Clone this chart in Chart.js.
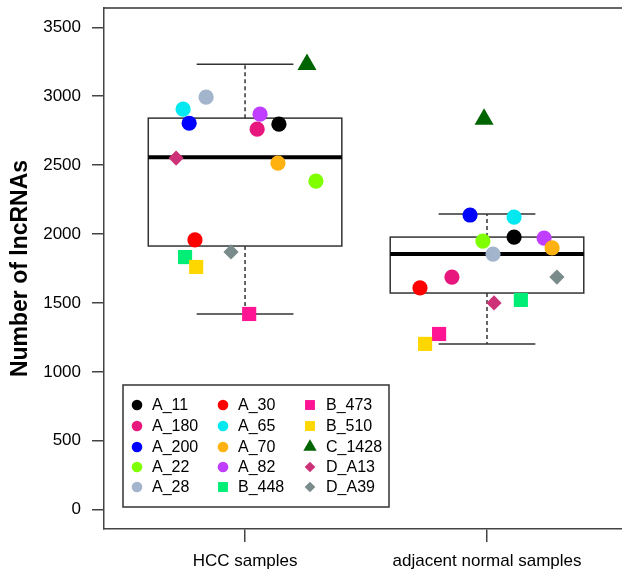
<!DOCTYPE html>
<html>
<head>
<meta charset="utf-8">
<script src="https://cdn.jsdelivr.net/npm/chart.js@4.4.1/dist/chart.umd.min.js"></script>
<style>
  html, body { margin: 0; padding: 0; background: #fff; overflow: hidden; }
  #wrap { width: 622px; height: 571px; }
</style>
</head>
<body>
<div id="wrap"><canvas id="boxchart" width="622" height="571"></canvas></div>
<script>
// groups on the x axis and y tick values
var groups = ["HCC samples", "adjacent normal samples"];
var yTicks = [0, 500, 1000, 1500, 2000, 2500, 3000, 3500];

// samples, in legend order
var samples = ["A_11", "A_180", "A_200", "A_22", "A_28", "A_30", "A_65", "A_70",
               "A_82", "B_448", "B_473", "B_510", "C_1428", "D_A13", "D_A39"];

// number of lncRNAs per sample
var hccCounts    = [2797, 2761, 2804, 2384, 2993, 1957, 2906, 2514, 2870, 1833, 1420, 1761, 3230, 2551, 1870];
var normalCounts = [1978, 1688, 2138, 1949, 1855, 1609, 2123, 1899, 1971, 1522, 1275, 1203, 2833, 1500, 1688];

// jittered x position of each point (group 1 = HCC, 2 = normal)
var hccJitter    = [1.140, 1.050, 0.769, 1.293, 0.839, 0.793, 0.744, 1.136, 1.062, 0.752, 1.017, 0.798, 1.256, 0.715, 0.942];
var normalJitter = [2.112, 1.855, 1.930, 1.983, 2.025, 1.723, 2.112, 2.269, 2.236, 2.140, 1.802, 1.744, 1.988, 2.029, 2.289];

// box stats: lower whisker, Q1, median, Q3, upper whisker
var hccBox    = [1420, 1913, 2558, 2841, 3232];
var normalBox = [1203, 1572, 1855, 1978, 2145];

// marker look per sample
var markColors = ["#000000", "#e8177d", "#0000ff", "#7fff00", "#a2b5cd", "#ff0000", "#00e8f0", "#ffb10f",
                  "#bf3eff", "#00ee76", "#ff1493", "#ffd700", "#006400", "#cd3278", "#7a8b8b"];
var markShapes = ["circle", "circle", "circle", "circle", "circle", "circle", "circle", "circle",
                  "circle", "rect", "rect", "rect", "triangle", "rectRot", "rectRot"];
var shapeRadius = { circle: 7.6, rect: 10, triangle: 11, rectRot: 7.6 };

var FONT = '"Liberation Sans", Arial, Helvetica, sans-serif';

var datasets = samples.map(function (name, i) {
  return {
    label: name,
    data: [{ x: hccJitter[i], y: hccCounts[i] }, { x: normalJitter[i], y: normalCounts[i] }],
    pointStyle: markShapes[i],
    pointRadius: shapeRadius[markShapes[i]],
    pointHoverRadius: shapeRadius[markShapes[i]],
    backgroundColor: markColors[i],
    borderColor: markColors[i],
    pointBorderWidth: 0,
    order: name === "B_510" ? -1 : 0
  };
});

// boxes, whiskers and the top frame line
var boxPlugin = {
  id: 'boxes',
  beforeDatasetsDraw: function (chart) {
    var ctx = chart.ctx, xs = chart.scales.x, ys = chart.scales.y, a = chart.chartArea;
    function line(x1, y1, x2, y2) {
      ctx.beginPath(); ctx.moveTo(x1, y1); ctx.lineTo(x2, y2); ctx.stroke();
    }
    ctx.save();
    ctx.strokeStyle = '#333'; ctx.lineWidth = 1.5;
    line(a.left, a.top, a.right, a.top);
    [hccBox, normalBox].forEach(function (b, i) {
      var c = i + 1;
      var x0 = xs.getPixelForValue(c - 0.4), x1 = xs.getPixelForValue(c + 0.4);
      var s0 = xs.getPixelForValue(c - 0.2), s1 = xs.getPixelForValue(c + 0.2);
      var cx = xs.getPixelForValue(c);
      var yLo = ys.getPixelForValue(b[0]), yQ1 = ys.getPixelForValue(b[1]);
      var yMed = ys.getPixelForValue(b[2]), yQ3 = ys.getPixelForValue(b[3]);
      var yHi = ys.getPixelForValue(b[4]);
      ctx.strokeStyle = '#333'; ctx.lineWidth = 1.5;
      ctx.setLineDash([4, 3]);
      line(cx, yQ3, cx, yHi);
      line(cx, yQ1, cx, yLo);
      ctx.setLineDash([]);
      line(s0, yHi, s1, yHi);
      line(s0, yLo, s1, yLo);
      ctx.strokeRect(x0, yQ3, x1 - x0, yQ1 - yQ3);
      ctx.strokeStyle = '#000'; ctx.lineWidth = 4;
      line(x0, yMed, x1, yMed);
    });
    ctx.restore();
  }
};

// boxed legend in three columns
var legendPlugin = {
  id: 'boxLegend',
  afterDraw: function (chart) {
    var ctx = chart.ctx, a = chart.chartArea;
    var left = a.left + 19, top = a.top + 377, w = 266, h = 122;
    var colSym = [14, 100, 187], colText = [29, 115, 203], rowY = [20, 41, 62, 82, 102];
    ctx.save();
    ctx.fillStyle = '#fff'; ctx.fillRect(left, top, w, h);
    ctx.strokeStyle = '#333'; ctx.lineWidth = 1.5; ctx.strokeRect(left, top, w, h);
    ctx.font = '16px ' + FONT;
    ctx.textBaseline = 'middle'; ctx.textAlign = 'left';
    chart.data.datasets.forEach(function (ds, i) {
      var col = Math.floor(i / 5), row = i % 5;
      var px = left + colSym[col], py = top + rowY[row];
      ctx.fillStyle = ds.backgroundColor;
      Chart.helpers.drawPoint(ctx, { pointStyle: ds.pointStyle, radius: ds.pointRadius * 0.7, borderWidth: 0, rotation: 0 }, px, py);
      ctx.fillStyle = '#000';
      ctx.fillText(ds.label, left + colText[col], py + 1);
    });
    ctx.restore();
  }
};

new Chart(document.getElementById('boxchart').getContext('2d'), {
  type: 'scatter',
  data: { datasets: datasets },
  plugins: [boxPlugin, legendPlugin],
  options: {
    responsive: false,
    animation: false,
    layout: { autoPadding: false, padding: { top: 8, right: 0, left: 0, bottom: 0 } },
    plugins: { legend: { display: false }, tooltip: { enabled: false } },
    scales: {
      x: {
        type: 'linear',
        min: 0.417, max: 2.558,
        afterBuildTicks: function (s) { s.ticks = groups.map(function (g, i) { return { value: i + 1 }; }); },
        afterFit: function (s) { s.height = 42; s.paddingLeft = 0; s.paddingRight = 0; },
        ticks: {
          autoSkip: false, maxRotation: 0, padding: 9, color: '#000',
          font: { family: FONT, size: 17 },
          callback: function (v) { return groups[v - 1]; }
        },
        grid: { drawOnChartArea: false, drawTicks: true, tickLength: 13, color: '#444', lineWidth: 1.5 },
        border: { display: true, color: '#444', width: 1.5 }
      },
      y: {
        min: -140, max: 3640,
        afterBuildTicks: function (s) { s.ticks = yTicks.map(function (v) { return { value: v }; }); },
        afterFit: function (s) { s.width = 104; s.paddingTop = 0; s.paddingBottom = 0; },
        ticks: {
          padding: 11, color: '#000', font: { family: FONT, size: 17 },
          callback: function (v) { return String(v); }
        },
        grid: { drawOnChartArea: false, drawTicks: true, tickLength: 12, color: '#444', lineWidth: 1.5 },
        border: { display: true, color: '#444', width: 1.5 },
        title: {
          display: true, text: 'Number of lncRNAs', color: '#000',
          font: { family: FONT, size: 23, weight: 'bold' },
          padding: { top: 7, bottom: 0 }
        }
      }
    }
  }
});
</script>
</body>
</html>
